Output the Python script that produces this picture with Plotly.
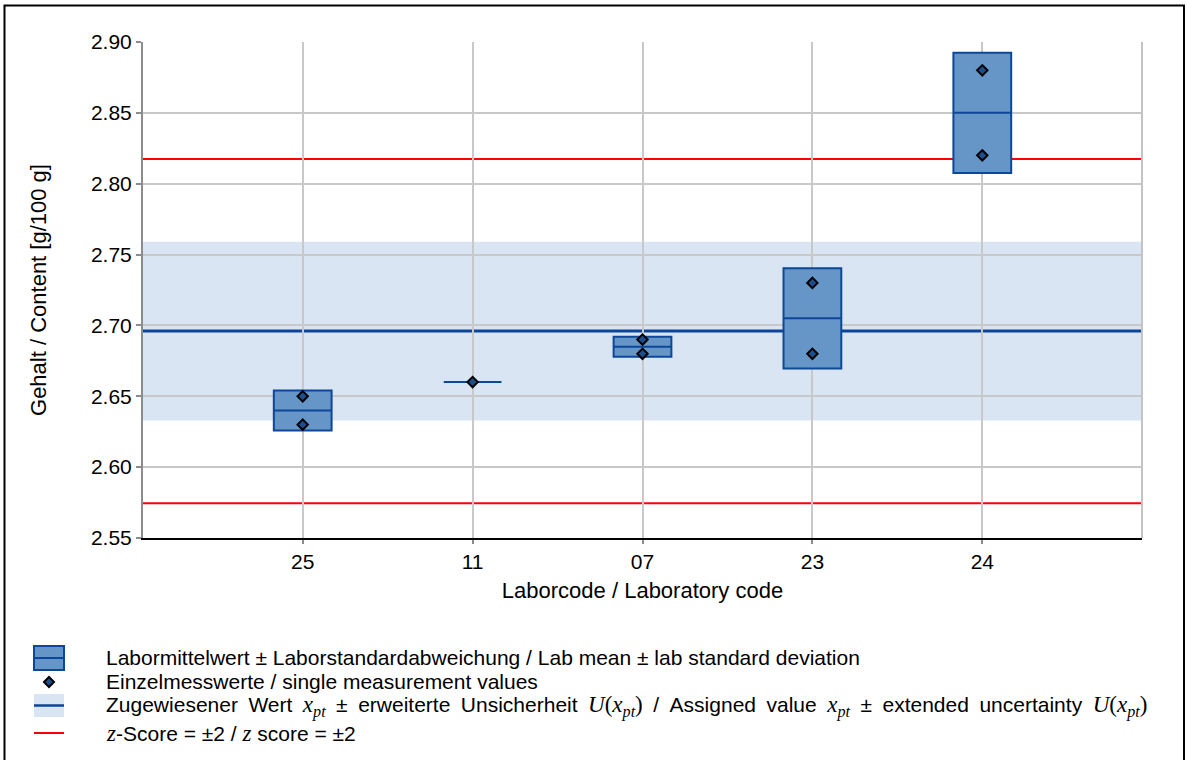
import numpy as np
import plotly.graph_objects as go

# Laboratory codes in plotting order and their single measurement values (g/100 g)
labs = ["25", "11", "07", "23", "24"]
singles = [
    [2.65, 2.63],
    [2.66],
    [2.69, 2.68],
    [2.73, 2.68],
    [2.88, 2.82],
]

# Assigned value, expanded uncertainty and standard deviation for proficiency assessment
x_pt = 2.696
U_xpt = 0.063
sigma_pt = 0.0607

y_ticks = [2.55, 2.60, 2.65, 2.70, 2.75, 2.80, 2.85, 2.90]

W, H = 1187, 760
ML, MR, MT, MB = 143, 45, 42, 222
PW, PH = W - ML - MR, H - MT - MB

FONT = "Arial, Liberation Sans, sans-serif"
FS = 21
BOX_FILL = "#6696c8"
BOX_LINE = "#0d4797"
BAND_FILL = "#dae5f3"
XPT_LINE = "#0b4599"
RED = "#ff0000"


def px(x):
    return (x - ML) / PW


def py(y):
    return (MT + PH - y) / PH


means = [float(np.mean(v)) for v in singles]
sds = [float(np.std(v, ddof=1)) if len(v) > 1 else 0.0 for v in singles]
q1 = [m - s for m, s in zip(means, sds)]
q3 = [m + s for m, s in zip(means, sds)]

pt_x = [lab for lab, v in zip(labs, singles) for _ in v]
pt_y = [val for v in singles for val in v]

fig = go.Figure()

fig.add_trace(go.Box(
    x=labs, q1=q1, median=means, q3=q3, lowerfence=q1, upperfence=q3,
    fillcolor=BOX_FILL, line=dict(color=BOX_LINE, width=2),
    width=0.34, whiskerwidth=0, boxpoints=False, showlegend=False,
))

fig.add_trace(go.Scatter(
    x=pt_x, y=pt_y, mode="markers", showlegend=False,
    marker=dict(symbol="diamond", size=8, color="#1f4e8c",
                line=dict(color="black", width=2)),
))

shapes = []
# Uncertainty band of the assigned value
shapes.append(dict(type="rect", xref="paper", yref="y", x0=0, x1=1,
                   y0=x_pt - U_xpt, y1=x_pt + U_xpt,
                   fillcolor=BAND_FILL, line=dict(width=0), layer="below"))
# Assigned value
shapes.append(dict(type="line", xref="paper", yref="y", x0=0, x1=1,
                   y0=x_pt, y1=x_pt, line=dict(color=XPT_LINE, width=3),
                   layer="between"))
# z-score limits ±2
for zl in (x_pt - 2 * sigma_pt, x_pt + 2 * sigma_pt):
    shapes.append(dict(type="line", xref="paper", yref="y", x0=0, x1=1,
                       y0=zl, y1=zl, line=dict(color=RED, width=2),
                       layer="between"))
# Right frame of plot area
shapes.append(dict(type="line", xref="paper", yref="paper", x0=1, x1=1,
                   y0=0, y1=1, line=dict(color="#c4c4c4", width=2)))
# Outer frame
shapes.append(dict(type="rect", xref="paper", yref="paper",
                   x0=px(4.5), x1=px(1184), y0=py(5.5), y1=py(800),
                   line=dict(color="black", width=2), fillcolor="rgba(0,0,0,0)"))

# Legend symbols
shapes.append(dict(type="rect", xref="paper", yref="paper",
                   x0=px(34), x1=px(64), y0=py(670), y1=py(646),
                   fillcolor=BOX_FILL, line=dict(color=BOX_LINE, width=2)))
shapes.append(dict(type="line", xref="paper", yref="paper",
                   x0=px(34), x1=px(64), y0=py(658), y1=py(658),
                   line=dict(color=BOX_LINE, width=2)))
shapes.append(dict(type="path", xref="paper", yref="paper",
                   xsizemode="pixel", ysizemode="pixel",
                   xanchor=px(49), yanchor=py(682),
                   path="M 0 5 L 5 0 L 0 -5 L -5 0 Z",
                   fillcolor="#1f4e8c", line=dict(color="black", width=2)))
shapes.append(dict(type="rect", xref="paper", yref="paper",
                   x0=px(34), x1=px(64), y0=py(717), y1=py(694),
                   fillcolor=BAND_FILL, line=dict(width=0)))
shapes.append(dict(type="line", xref="paper", yref="paper",
                   x0=px(34), x1=px(64), y0=py(705.5), y1=py(705.5),
                   line=dict(color=XPT_LINE, width=2.5)))
shapes.append(dict(type="line", xref="paper", yref="paper",
                   x0=px(34), x1=px(64), y0=py(733), y1=py(733),
                   line=dict(color=RED, width=2)))

MATH = "font-family:Liberation Serif, serif;font-size:23px"
xpt_txt = f"<span style='{MATH}'><i>x</i><sub><i>pt</i></sub></span>"
U_txt = f"<span style='{MATH}'><i>U</i>(<i>x</i><sub><i>pt</i></sub>)</span>"
z_txt = f"<span style='{MATH}'><i>z</i></span>"

SP = "\u2002"  # wider word spacing for the justified line
row3_words = ["Zugewiesener", "Wert", xpt_txt, "±", "erweiterte", "Unsicherheit",
              U_txt, "/", "Assigned", "value", xpt_txt, "±", "extended",
              "uncertainty", U_txt]

legend_rows = [
    (657, "Labormittelwert ± Laborstandardabweichung / Lab mean ± lab standard deviation"),
    (681, "Einzelmesswerte / single measurement values"),
    (706, SP.join(row3_words)),
    (734, f"{z_txt}-Score = ±2 / {z_txt} score = ±2"),
]

annotations = []
for yy, txt in legend_rows:
    annotations.append(dict(xref="paper", yref="paper", x=px(104), y=py(yy),
                            xanchor="left", yanchor="middle", showarrow=False,
                            text=txt, font=dict(family=FONT, size=FS, color="black")))

fig.update_layout(
    width=W, height=H,
    margin=dict(l=ML, r=MR, t=MT, b=MB, pad=0),
    paper_bgcolor="white", plot_bgcolor="white",
    font=dict(family=FONT, size=FS, color="black"),
    showlegend=False,
    shapes=shapes,
    annotations=annotations,
    xaxis=dict(
        type="category", categoryorder="array", categoryarray=labs,
        range=[-0.94, 4.94],
        showgrid=True, gridcolor="#c8c8c8", gridwidth=1.5,
        showline=True, linecolor="black", linewidth=2,
        ticks="outside", ticklen=4, tickcolor="#8c8c8c", tickwidth=1.5,
        tickfont=dict(size=FS),
        title=dict(text="Laborcode / Laboratory code", font=dict(size=22), standoff=10),
    ),
    yaxis=dict(
        range=[2.55, 2.90], tickvals=y_ticks, tickformat=".2f",
        showgrid=True, gridcolor="#c8c8c8", gridwidth=1.5, zeroline=False,
        showline=True, linecolor="#8c8c8c", linewidth=2,
        ticks="outside", ticklen=5, tickcolor="#8c8c8c", tickwidth=1.5,
        tickfont=dict(size=FS),
        title=dict(text="Gehalt / Content [g/100 g]", font=dict(size=22), standoff=38),
    ),
)

fig.write_html("out.html")
